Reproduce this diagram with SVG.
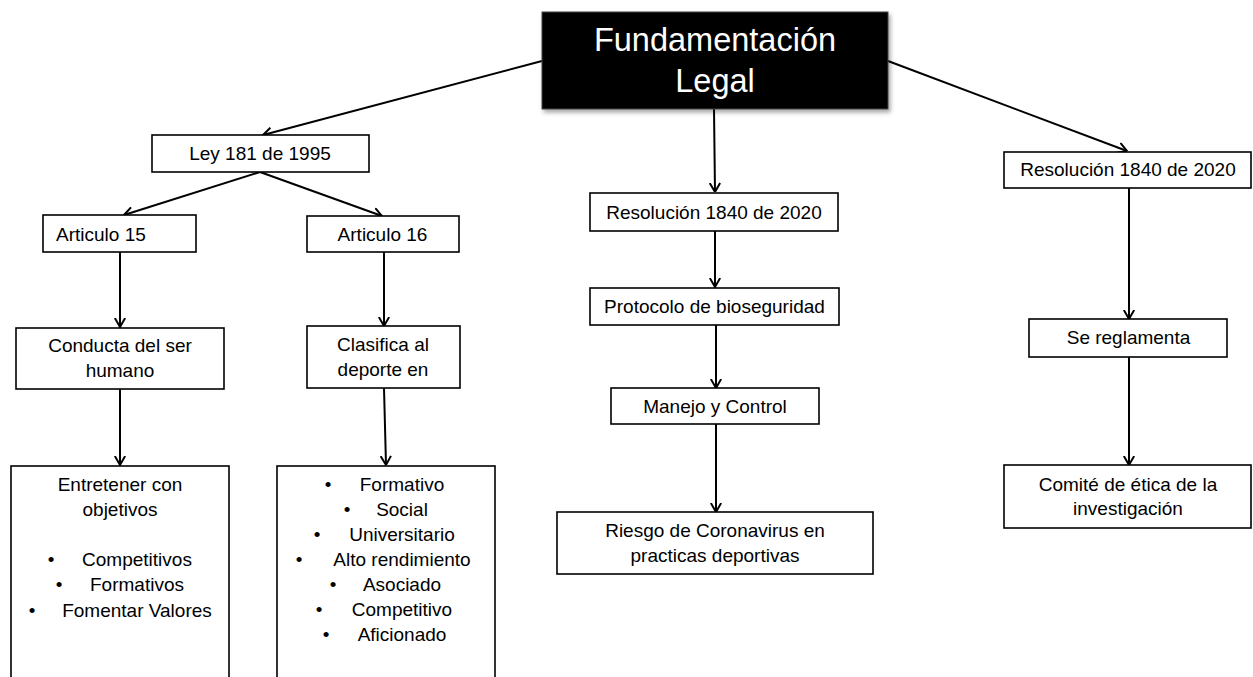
<svg xmlns="http://www.w3.org/2000/svg" width="1253" height="677" viewBox="0 0 1253 677">
<style>
.box{fill:#fff;stroke:#000;stroke-width:1.6}
.t{font-family:"Liberation Sans",Arial,sans-serif;font-size:19px;fill:#000;text-anchor:middle}
.ts{font-family:"Liberation Sans",Arial,sans-serif;font-size:19px;fill:#000;text-anchor:start}
.title{font-family:"Liberation Sans",Arial,sans-serif;font-size:32.5px;fill:#fff;text-anchor:middle}
.edge{fill:none;stroke:#000;stroke-width:2;marker-end:url(#arr)}
</style>
<defs>
<marker id="arr" markerUnits="userSpaceOnUse" viewBox="0 0 10 12" refX="9.5" refY="6" markerWidth="10" markerHeight="12" orient="auto">
<path d="M0.5,0.8 L9.5,6 L0.5,11.2" fill="none" stroke="#000" stroke-width="2"/>
</marker>
<filter id="sh" x="-10%" y="-10%" width="125%" height="130%">
<feDropShadow dx="2" dy="3" stdDeviation="2" flood-color="#000" flood-opacity="0.35"/>
</filter>
</defs>
<rect width="1253" height="677" fill="#fff"/>
<g id="connectors">
<path class="edge" d="M542,61 L263,135"/>
<path class="edge" d="M888,61 L1127,151"/>
<path class="edge" d="M714,109 L715,192"/>
<path class="edge" d="M260,172 L124,215"/>
<path class="edge" d="M260,172 L382,216"/>
<path class="edge" d="M120,252 L120,327"/>
<path class="edge" d="M120,389 L120,465"/>
<path class="edge" d="M384,252 L384,326"/>
<path class="edge" d="M384,388 L386,465"/>
<path class="edge" d="M715,231 L715,287"/>
<path class="edge" d="M716,325 L716,388"/>
<path class="edge" d="M716,424 L716,512"/>
<path class="edge" d="M1129,188 L1129,319"/>
<path class="edge" d="M1129,357 L1129,465"/>
</g>
<g id="fundamentacion">
<rect x="542" y="12" width="346" height="97" fill="#000" stroke="#444" stroke-width="1" filter="url(#sh)"/>
<text class="title" x="715" y="51">Fundamentación</text>
<text class="title" x="715" y="92">Legal</text>
</g>
<g id="ley181">
<rect class="box" x="152" y="135" width="217" height="37"/>
<text class="t" x="260" y="160">Ley 181 de 1995</text>
</g>
<g id="articulo15">
<rect class="box" x="43" y="215" width="153" height="37"/>
<text class="ts" x="56" y="241">Articulo 15</text>
</g>
<g id="articulo16">
<rect class="box" x="307" y="216" width="152" height="36"/>
<text class="t" x="382.5" y="241">Articulo 16</text>
</g>
<g id="conducta">
<rect class="box" x="16" y="328" width="208" height="61"/>
<text class="t" x="120" y="352">Conducta del ser</text>
<text class="t" x="120" y="377">humano</text>
</g>
<g id="clasifica">
<rect class="box" x="307" y="326" width="153" height="62"/>
<text class="t" x="383" y="351">Clasifica al</text>
<text class="t" x="383" y="376">deporte en</text>
</g>
<g id="entretener">
<rect class="box" x="11" y="466" width="218" height="230"/>
<text class="t" x="120" y="491">Entretener con</text>
<text class="t" x="120" y="516">objetivos</text>
<text class="t" x="51" y="566">•</text><text class="t" x="137" y="566">Competitivos</text>
<text class="t" x="59" y="591">•</text><text class="t" x="137" y="591">Formativos</text>
<text class="t" x="32" y="617">•</text><text class="t" x="137" y="617">Fomentar Valores</text>
</g>
<g id="tipos">
<rect class="box" x="277" y="466" width="218" height="230"/>
<text class="t" x="328" y="491">•</text><text class="t" x="402" y="491">Formativo</text>
<text class="t" x="347" y="516">•</text><text class="t" x="402" y="516">Social</text>
<text class="t" x="317" y="541">•</text><text class="t" x="402" y="541">Universitario</text>
<text class="t" x="299" y="566">•</text><text class="t" x="402" y="566">Alto rendimiento</text>
<text class="t" x="333" y="591">•</text><text class="t" x="402" y="591">Asociado</text>
<text class="t" x="319" y="616">•</text><text class="t" x="402" y="616">Competitivo</text>
<text class="t" x="326" y="641">•</text><text class="t" x="402" y="641">Aficionado</text>
</g>
<g id="resolucion_mid">
<rect class="box" x="590" y="193" width="248" height="38"/>
<text class="t" x="714" y="219">Resolución 1840 de 2020</text>
</g>
<g id="protocolo">
<rect class="box" x="590" y="288" width="249" height="37"/>
<text class="t" x="714.5" y="313">Protocolo de bioseguridad</text>
</g>
<g id="manejo">
<rect class="box" x="611" y="388" width="208" height="36"/>
<text class="t" x="715" y="413">Manejo y Control</text>
</g>
<g id="riesgo">
<rect class="box" x="557" y="512" width="316" height="62"/>
<text class="t" x="715" y="537">Riesgo de Coronavirus en</text>
<text class="t" x="715" y="562">practicas deportivas</text>
</g>
<g id="resolucion_right">
<rect class="box" x="1004" y="152" width="247" height="36"/>
<text class="t" x="1128" y="176">Resolución 1840 de 2020</text>
</g>
<g id="reglamenta">
<rect class="box" x="1029" y="319" width="198" height="38"/>
<text class="t" x="1128.5" y="344">Se reglamenta</text>
</g>
<g id="comite">
<rect class="box" x="1004" y="465" width="247" height="63"/>
<text class="t" x="1128" y="491">Comité de ética de la</text>
<text class="t" x="1128" y="515">investigación</text>
</g>
</svg>
